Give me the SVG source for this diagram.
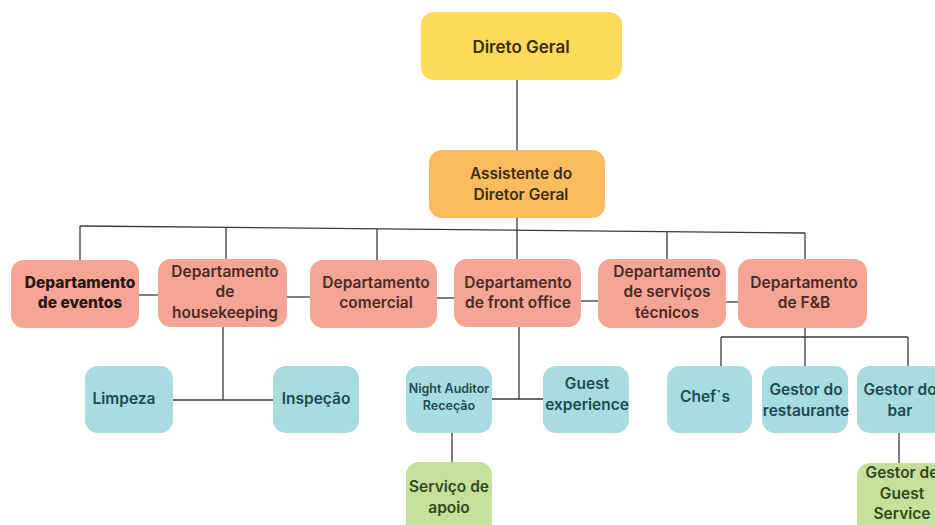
<svg xmlns="http://www.w3.org/2000/svg" width="935" height="525" viewBox="0 0 935 525">
  <style>
    .box { stroke: none; }
    .lvl0 { fill: #fcdb5a; }
    .lvl1 { fill: #fbbb5e; }
    .dept { fill: #f5a596; }
    .unit { fill: #a8dde0; }
    .sub { fill: #c6e09c; }
    text { font-family: "Inter", "Liberation Sans", sans-serif; font-size: 15.5px; font-weight: 600; text-anchor: middle; }
    .t0 { fill: #3b2d10; }
    .big { font-size: 17px; }
    .td { fill: #4a2a24; }
    .tb { fill: #2a1612; font-weight: 800; }
    .tu { fill: #1f4a4f; }
    .ts { fill: #2f4a1c; }
    .small { font-size: 12.5px; }
    .wire { stroke: #3a3a3a; stroke-width: 1.3; fill: none; }
  </style>

  <g id="connectors">
    <line class="wire" x1="517" y1="80" x2="517" y2="150"/>
    <line class="wire" x1="517" y1="218" x2="517" y2="259"/>
    <line class="wire" x1="80" y1="226" x2="805" y2="233"/>
    <line class="wire" x1="80" y1="226" x2="80" y2="260"/>
    <line class="wire" x1="226" y1="227" x2="226" y2="259"/>
    <line class="wire" x1="377" y1="229" x2="377" y2="260"/>
    <line class="wire" x1="667" y1="232" x2="667" y2="259"/>
    <line class="wire" x1="805" y1="233" x2="805" y2="259"/>
    <line class="wire" x1="139" y1="295" x2="158" y2="295"/>
    <line class="wire" x1="287" y1="297" x2="310" y2="297"/>
    <line class="wire" x1="437" y1="298" x2="454" y2="298"/>
    <line class="wire" x1="581" y1="301" x2="598" y2="301"/>
    <line class="wire" x1="726" y1="302" x2="738" y2="302"/>
    <line class="wire" x1="223" y1="327" x2="223" y2="400"/>
    <line class="wire" x1="173" y1="400" x2="273" y2="400"/>
    <line class="wire" x1="519" y1="327" x2="519" y2="399"/>
    <line class="wire" x1="492" y1="399" x2="543" y2="399"/>
    <line class="wire" x1="452" y1="433" x2="452" y2="462"/>
    <line class="wire" x1="805" y1="328" x2="805" y2="366"/>
    <line class="wire" x1="721" y1="337" x2="908" y2="337"/>
    <line class="wire" x1="721" y1="337" x2="721" y2="366"/>
    <line class="wire" x1="908" y1="337" x2="908" y2="366"/>
    <line class="wire" x1="899" y1="433" x2="899" y2="463"/>
  </g>

  <g id="direto-geral">
    <rect class="box lvl0" x="421" y="12" width="201" height="68" rx="13"/>
    <text class="t0 big" x="521" y="53">Direto Geral</text>
  </g>

  <g id="assistente">
    <rect class="box lvl1" x="429" y="150" width="176" height="68" rx="13"/>
    <text class="t0" x="521" y="179">Assistente do</text>
    <text class="t0" x="521" y="200">Diretor Geral</text>
  </g>

  <g id="dep-eventos">
    <rect class="box dept" x="11" y="260" width="128" height="68" rx="13"/>
    <text class="tb" x="80" y="288">Departamento</text>
    <text class="tb" x="80" y="308">de eventos</text>
  </g>

  <g id="dep-housekeeping">
    <rect class="box dept" x="158" y="259" width="129" height="68" rx="13"/>
    <text class="td" x="225" y="277">Departamento</text>
    <text class="td" x="225" y="297">de</text>
    <text class="td" x="225" y="318">housekeeping</text>
  </g>

  <g id="dep-comercial">
    <rect class="box dept" x="310" y="260" width="127" height="68" rx="13"/>
    <text class="td" x="376" y="288">Departamento</text>
    <text class="td" x="376" y="308">comercial</text>
  </g>

  <g id="dep-front-office">
    <rect class="box dept" x="454" y="259" width="127" height="68" rx="13"/>
    <text class="td" x="518" y="288">Departamento</text>
    <text class="td" x="518" y="308">de front office</text>
  </g>

  <g id="dep-servicos-tecnicos">
    <rect class="box dept" x="598" y="259" width="128" height="69" rx="13"/>
    <text class="td" x="667" y="277">Departamento</text>
    <text class="td" x="667" y="297">de serviços</text>
    <text class="td" x="667" y="318">técnicos</text>
  </g>

  <g id="dep-fb">
    <rect class="box dept" x="738" y="259" width="129" height="69" rx="13"/>
    <text class="td" x="804" y="288">Departamento</text>
    <text class="td" x="804" y="308">de F&amp;B</text>
  </g>

  <g id="limpeza">
    <rect class="box unit" x="85" y="366" width="88" height="67" rx="13"/>
    <text class="tu" x="124" y="404">Limpeza</text>
  </g>

  <g id="inspecao">
    <rect class="box unit" x="273" y="366" width="86" height="67" rx="13"/>
    <text class="tu" x="316" y="404">Inspeção</text>
  </g>

  <g id="night-auditor">
    <rect class="box unit" x="406" y="366" width="86" height="67" rx="13"/>
    <text class="tu small" x="449" y="393">Night Auditor</text>
    <text class="tu small" x="449" y="410">Receção</text>
  </g>

  <g id="guest-experience">
    <rect class="box unit" x="543" y="366" width="86" height="67" rx="13"/>
    <text class="tu" x="587" y="389">Guest</text>
    <text class="tu" x="587" y="410">experience</text>
  </g>

  <g id="servico-apoio">
    <rect class="box sub" x="406" y="462" width="86" height="75" rx="13"/>
    <text class="ts" x="449" y="492">Serviço de</text>
    <text class="ts" x="449" y="513">apoio</text>
  </g>

  <g id="chefs">
    <rect class="box unit" x="667" y="366" width="85" height="67" rx="13"/>
    <text class="tu" x="705" y="402">Chef`s</text>
  </g>

  <g id="gestor-restaurante">
    <rect class="box unit" x="762" y="366" width="86" height="67" rx="13"/>
    <text class="tu" x="806" y="395">Gestor do</text>
    <text class="tu" x="806" y="416">restaurante</text>
  </g>

  <g id="gestor-bar">
    <rect class="box unit" x="857" y="366" width="88" height="67" rx="13"/>
    <text class="tu" x="900" y="395">Gestor do</text>
    <text class="tu" x="900" y="416">bar</text>
  </g>

  <g id="gestor-guest-service">
    <rect class="box sub" x="857" y="463" width="88" height="75" rx="13"/>
    <text class="ts" x="902" y="478">Gestor de</text>
    <text class="ts" x="902" y="499">Guest</text>
    <text class="ts" x="902" y="519">Service</text>
  </g>
</svg>
